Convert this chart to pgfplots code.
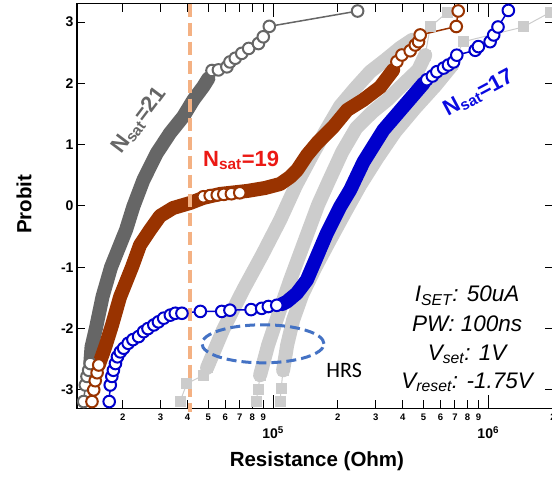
\documentclass[border=0pt]{standalone}
\usepackage{fontspec}
\setmainfont{Liberation Sans}
\newfontfamily\calibri{Carlito}
\usepackage{pgfplots}
\pgfplotsset{compat=1.18}
\definecolor{darkgr}{RGB}{102,102,102}
\definecolor{brn}{RGB}{153,51,0}
\definecolor{blu}{RGB}{0,0,204}
\definecolor{lgr}{RGB}{204,204,204}
\definecolor{peach}{RGB}{244,177,131}
\definecolor{ellblue}{RGB}{68,114,196}
\definecolor{labred}{RGB}{235,25,20}
\definecolor{labblue}{RGB}{10,10,225}
\pgfplotsset{
  band/.style={line width=14pt, line cap=round, line join=round},
  ring/.style={line width=1.5pt, mark=*, mark size=5.8pt, mark options={fill=white, line width=2pt}},
  sq/.style={lgr, line width=1pt, mark=square*, mark size=5pt, mark options={fill=lgr, draw=lgr}},
}
\begin{document}
\begin{tikzpicture}
\begin{axis}[
  name=ax,
  scale only axis, width=476pt, height=404.6pt,
  xmode=log, xmin=1.226e4, xmax=2e6, ymin=-3.3, ymax=3.3,
  clip=false,
  axis line style={line width=1.2pt},
  tick style={line width=1pt, black},
  major tick length=8pt,
  xtick={2e4,3e4,4e4,5e4,6e4,7e4,8e4,9e4,2e5,3e5,4e5,5e5,6e5,7e5,8e5,9e5,2e6},
  xticklabels={2,3,4,5,6,7,8,9,2,3,4,5,6,7,8,9,2},
  minor xtick={},
  extra x ticks={1e5,1e6},
  extra x tick labels={{\bfseries\fontsize{14}{16}\selectfont 10\textsuperscript{5}},{\bfseries\fontsize{14}{16}\selectfont 10\textsuperscript{6}}},
  extra x tick style={major tick length=13pt,
    tick label style={yshift=-13pt}},
  ytick={-3,-2,-1,0,1,2,3},
  yticklabels={-3,-2,-1,0,1,2,3},
  x tick label style={font=\bfseries\fontsize{9.5}{11}\selectfont, yshift=-2pt},
  y tick label style={font=\bfseries\fontsize{14}{16}\selectfont},
  xlabel={Resistance (Ohm)}, ylabel={Probit},
  xlabel style={at={(axis description cs:0.504,-0.145)}, anchor=base,
    font=\bfseries\fontsize{20.5}{24}\selectfont},
  ylabel style={at={(axis description cs:-0.096,0.504)}, anchor=base, rotate=0,
    font=\bfseries\fontsize{20.5}{24}\selectfont},
]
% HRS distributions (light gray)
\addplot[lgr, band] coordinates {
 (4.932e4,-2.64) (5.853e4,-2.02) (7.253e4,-1.37) (8.889e4,-0.80) (1.078e5,-0.23)
 (1.279e5,0.34) (1.518e5,0.83) (1.764e5,1.24) (2.049e5,1.63) (2.407e5,1.92)
 (2.826e5,2.19) (3.318e5,2.38) (3.897e5,2.58) (4.43e5,2.71)};
\addplot[sq] coordinates {(3.694e4,-3.19) (3.968e4,-2.90) (4.741e4,-2.76) (4.932e4,-2.64)};
\addplot[lgr, band] coordinates {
 (8.7e4,-2.76) (9.478e4,-2.27) (1.055e5,-1.78) (1.2e5,-1.21) (1.409e5,-0.55)
 (1.619e5,0.02) (1.822e5,0.42) (2.094e5,0.88) (2.432e5,1.27) (2.887e5,1.53)
 (3.39e5,1.73) (3.981e5,1.97) (4.725e5,2.22) (5.093e5,2.46)};
\addplot[sq] coordinates {(8.336e4,-3.19) (8.516e4,-3.00) (8.7e4,-2.76)};
\addplot[sq] coordinates {(5.093e5,2.46) (5.373e5,2.92) (6.447e5,3.16)};
\addplot[lgr, band] coordinates {
 (1.113e5,-2.68) (1.162e5,-2.27) (1.239e5,-1.86) (1.364e5,-1.45) (1.568e5,-1.01)
 (1.841e5,-0.55) (2.162e5,-0.10) (2.539e5,0.34) (3.046e5,0.78) (3.693e5,1.21)
 (4.577e5,1.60) (5.669e5,1.96) (6.8e5,2.30)};
\addplot[sq] coordinates {(1.078e5,-3.19) (1.09e5,-2.97) (1.113e5,-2.68)};
\addplot[sq] coordinates {(6.8e5,2.30) (7.65e5,2.68) (1.455e6,2.92) (1.943e6,3.16)};
% N_sat = 21 (dark gray)
\addplot[darkgr, band] coordinates {
 (1.413e4,-2.57) (1.432e4,-2.30) (1.502e4,-1.99) (1.611e4,-1.48) (1.764e4,-1.00)
 (2.072e4,-0.39) (2.240e4,-0.01) (2.493e4,0.42) (2.878e4,0.86) (3.318e4,1.19)
 (3.826e4,1.46) (4.259e4,1.73) (4.741e4,1.95) (5.0e4,2.08)};
\addplot[darkgr, ring] coordinates {
 (1.317e4,-3.19) (1.340e4,-2.92) (1.364e4,-2.78) (1.389e4,-2.68) (1.413e4,-2.57)};
\addplot[darkgr, ring] coordinates {
 (5.2e4,2.21) (5.57e4,2.22) (6.1e4,2.27) (6.3e4,2.35) (6.67e4,2.41) (7.15e4,2.49)
 (7.7e4,2.57) (8.55e4,2.65) (9.0e4,2.76) (9.6e4,2.93) (2.47e5,3.18)};
% N_sat = 19 (brown)
\addplot[brn, band] coordinates {
 (1.547e4,-2.594) (1.66e4,-2.295) (1.784e4,-1.941) (1.943e4,-1.485) (2.21e4,-0.995)
 (2.407e4,-0.636) (2.679e4,-0.392) (2.982e4,-0.163) (3.426e4,-0.033) (4.111e4,0.049)
 (4.725e4,0.131) (5.669e4,0.196) (7.571e4,0.245) (9.18e4,0.294) (1.078e5,0.359)
 (1.2e5,0.473) (1.293e5,0.587) (1.439e5,0.832) (1.602e5,1.028) (1.902e5,1.289)
 (2.21e5,1.566) (2.622e5,1.729) (3.146e5,1.941) (3.615e5,2.219)};
\addplot[brn, ring, only marks] coordinates {
 (4.74e4,0.15) (5.1e4,0.17) (5.5e4,0.18) (5.9e4,0.19) (6.4e4,0.2) (7.0e4,0.215)};
\addplot[brn, band, line width=10pt] coordinates {
 (4.74e4,0.11) (5.669e4,0.18) (7.571e4,0.23)};
\addplot[brn, ring] coordinates {
 (1.439e4,-3.19) (1.466e4,-3.0) (1.49e4,-2.85) (1.52e4,-2.72) (1.547e4,-2.594)};
\addplot[brn, ring] coordinates {
 (3.761e5,2.354) (3.968e5,2.463) (4.338e5,2.532) (4.577e5,2.626) (4.741e5,2.68)
 (4.828e5,2.79) (7.1e5,2.928) (7.25e5,3.181)};
% N_sat = 17 (blue)
\addplot[blu, band] coordinates {
 (1.1e5,-1.60) (1.158e5,-1.561) (1.289e5,-1.424) (1.435e5,-1.207) (1.597e5,-0.827)
 (1.777e5,-0.445) (2.05e5,-0.011) (2.281e5,0.261) (2.63e5,0.718) (3.258e5,1.24)
 (4.036e5,1.62) (5.003e5,2.0)};
\addplot[blu, ring] coordinates {
 (1.73e4,-3.19) (1.75e4,-2.92) (1.78e4,-2.78) (1.81e4,-2.68) (1.85e4,-2.57)
 (1.89e4,-2.46) (1.95e4,-2.38) (2.02e4,-2.32) (2.12e4,-2.24) (2.23e4,-2.18)
 (2.37e4,-2.13) (2.50e4,-2.05) (2.62e4,-2.0) (2.79e4,-1.94) (2.93e4,-1.89)
 (3.10e4,-1.83) (3.33e4,-1.78) (3.51e4,-1.75) (3.77e4,-1.75) (4.59e4,-1.72)
 (5.77e4,-1.72) (6.3e4,-1.70) (7.9e4,-1.69) (8.85e4,-1.67) (9.5e4,-1.64) (1.04e5,-1.62)};
\addplot[blu, ring] coordinates {
 (5.18e5,2.06) (5.5e5,2.12) (5.77e5,2.19) (6.2e5,2.25) (6.53e5,2.30) (6.9e5,2.35)
 (7.14e5,2.46) (8.7e5,2.54) (9.0e5,2.6) (1.02e6,2.68) (1.06e6,2.79) (1.11e6,2.92)
 (1.24e6,3.19)};
% SET compliance marker
\draw[peach, line width=3.5pt, dash pattern=on 13pt off 6pt]
  (axis cs:4.11e4,3.3) -- ([yshift=-4pt]axis cs:4.11e4,-3.3);
\draw[ellblue, line width=3pt, dash pattern=on 10pt off 5pt]
  (axis cs:8.97e4,-2.248) ellipse [x radius=61pt, y radius=19pt];
% labels
\node[darkgr, rotate=53, font=\bfseries\fontsize{22}{26}\selectfont] at (axis cs:2.381e4,1.39) {N\textsubscript{sat}=21};
\node[labred, font=\bfseries\fontsize{22}{26}\selectfont] at (axis cs:7.1e4,0.75) {N\textsubscript{sat}=19};
\node[labblue, rotate=28, font=\bfseries\fontsize{22}{26}\selectfont] at (axis cs:9.03e5,1.835) {N\textsubscript{sat}=17};
\node[font=\calibri\fontsize{22}{26}\selectfont] at (axis cs:2.14e5,-2.68) {HRS};
\node[anchor=base, font=\itshape\fontsize{22.5}{27}\selectfont] at (axis cs:7.98e5,-1.561) {I\textsubscript{SET}: 50uA};
\node[anchor=base, font=\itshape\fontsize{22.5}{27}\selectfont] at (axis cs:7.98e5,-2.051) {PW: 100ns};
\node[anchor=base, font=\itshape\fontsize{22.5}{27}\selectfont] at (axis cs:7.98e5,-2.524) {V\textsubscript{set}: 1V};
\node[anchor=base, font=\itshape\fontsize{22.5}{27}\selectfont] at (axis cs:7.98e5,-2.974) {V\textsubscript{reset}: -1.75V};
\end{axis}
\pgfresetboundingbox
\path[use as bounding box] ([xshift=-77pt,yshift=-68pt]ax.south west) rectangle ([xshift=-1pt,yshift=3.7pt]ax.north east);
\end{tikzpicture}
\end{document}
